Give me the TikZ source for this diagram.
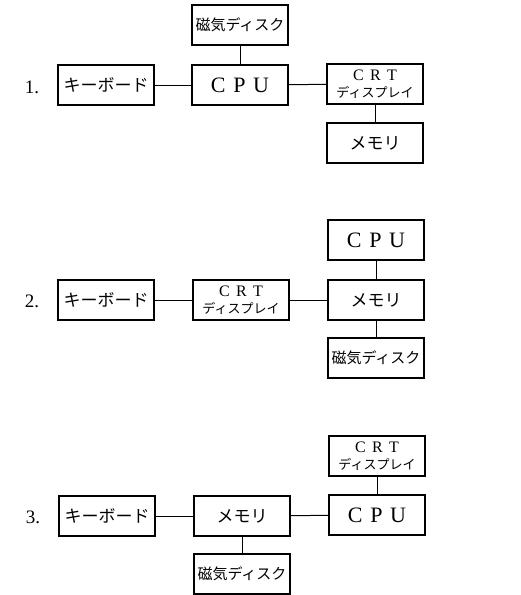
\documentclass[tikz,border=0pt]{standalone}
\usepackage{fontspec}
\setmainfont{Liberation Serif}
\newfontfamily\jp{Noto Sans CJK JP}
\begin{document}
\begin{tikzpicture}[x=1pt,y=-1pt,
  blk/.style={draw,line width=1.4pt,minimum width=96pt,minimum height=40pt,inner sep=0pt,align=center},
  conn/.style={line width=1pt},
  lab/.style={font=\fontsize{19}{19}\selectfont},
  kb/.style={font=\jp\fontsize{17}{17}\selectfont},
  disk/.style={font=\jp\fontsize{15}{15}\selectfont},
  mem/.style={font=\jp\fontsize{17}{17}\selectfont},
  cpu/.style={font=\fontsize{22}{22}\selectfont},
  crt/.style={font=\fontsize{16}{16}\selectfont}]
\useasboundingbox (0,0) rectangle (520,595);
\newcommand{\cpuT}{C\hspace{0.35em}P\hspace{0.35em}U}
\newcommand{\crtT}{C\hspace{0.4em}R\hspace{0.4em}T\\[1pt]{\jp\fontsize{13}{13}\selectfont ディスプレイ}}
% Diagram 1
\node[lab] (l1) at (32,87) {1.};
\node[blk,kb] (kb1) at (106,85) {キーボード};
\node[blk,cpu] (cpu1) at (240,85) {\cpuT};
\node[blk,crt] (crt1) at (375,84) {\crtT};
\node[blk,disk] (disk1) at (240,25) {磁気ディスク};
\node[blk,mem] (mem1) at (375,143) {メモリ};
\draw[conn] (kb1) -- (cpu1);
\draw[conn] (cpu1) -- (crt1);
\draw[conn] (disk1) -- (cpu1);
\draw[conn] (crt1) -- (mem1);
% Diagram 2
\node[lab] (l2) at (32,301) {2.};
\node[blk,kb] (kb2) at (106,300) {キーボード};
\node[blk,crt] (crt2) at (241,300) {\crtT};
\node[blk,mem] (mem2) at (376,300) {メモリ};
\node[blk,cpu] (cpu2) at (376,240) {\cpuT};
\node[blk,disk] (disk2) at (376,358) {磁気ディスク};
\draw[conn] (kb2) -- (crt2);
\draw[conn] (crt2) -- (mem2);
\draw[conn] (cpu2) -- (mem2);
\draw[conn] (mem2) -- (disk2);
% Diagram 3
\node[lab] (l3) at (33,517) {3.};
\node[blk,kb] (kb3) at (107,516) {キーボード};
\node[blk,mem] (mem3) at (242,516) {メモリ};
\node[blk,cpu] (cpu3) at (377,515) {\cpuT};
\node[blk,crt] (crt3) at (377,456) {\crtT};
\node[blk,disk] (disk3) at (242,574) {磁気ディスク};
\draw[conn] (kb3) -- (mem3);
\draw[conn] (mem3) -- (cpu3);
\draw[conn] (crt3) -- (cpu3);
\draw[conn] (mem3) -- (disk3);
\end{tikzpicture}
\end{document}
